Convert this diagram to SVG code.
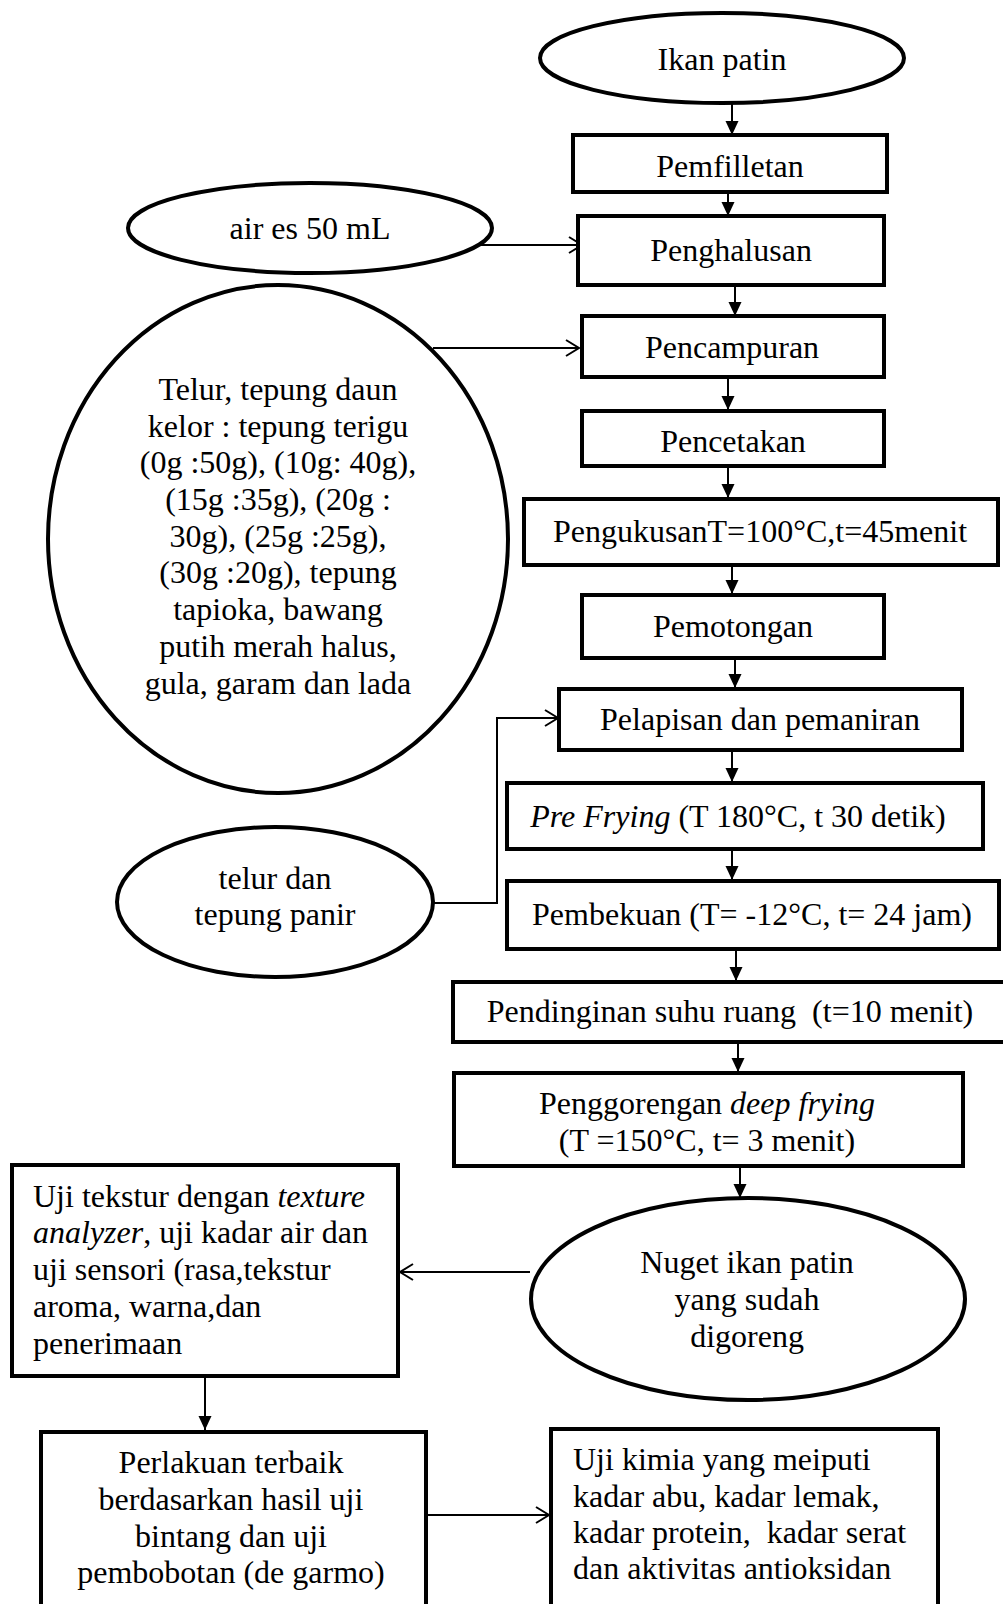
<svg xmlns="http://www.w3.org/2000/svg" width="1003" height="1604" viewBox="0 0 1003 1604">
<style>
text{font-family:"Liberation Serif","Times New Roman",serif;font-size:32px;fill:#000;white-space:pre}
.c{text-anchor:middle}
.i{font-style:italic}
.box{fill:#fff;stroke:#000;stroke-width:4}
.ell{fill:#fff;stroke:#000;stroke-width:4}
.ln{fill:none;stroke:#000;stroke-width:2}
</style>
<defs>
<marker id="tri" markerUnits="userSpaceOnUse" markerWidth="14" markerHeight="14" refX="14" refY="6.5" orient="auto">
<path d="M0,0 L14,6.5 L0,13 z" fill="#000"/>
</marker>
<marker id="open" markerUnits="userSpaceOnUse" markerWidth="16" markerHeight="20" refX="14" refY="9" orient="auto">
<path d="M1,1 L14,9 L1,17" fill="none" stroke="#000" stroke-width="2"/>
</marker>
</defs>
<rect width="1003" height="1604" fill="#fff"/>
<g id="connectors">
<line class="ln" x1="732" y1="103" x2="732" y2="135" marker-end="url(#tri)"/>
<line class="ln" x1="728" y1="192" x2="728" y2="216" marker-end="url(#tri)"/>
<line class="ln" x1="480" y1="245" x2="582" y2="245" marker-end="url(#open)"/>
<line class="ln" x1="735" y1="285" x2="735" y2="316" marker-end="url(#tri)"/>
<line class="ln" x1="433" y1="348" x2="579" y2="348" marker-end="url(#open)"/>
<line class="ln" x1="728" y1="377" x2="728" y2="410" marker-end="url(#tri)"/>
<line class="ln" x1="728" y1="466" x2="728" y2="498" marker-end="url(#tri)"/>
<line class="ln" x1="732" y1="565" x2="732" y2="594" marker-end="url(#tri)"/>
<line class="ln" x1="735" y1="658" x2="735" y2="688" marker-end="url(#tri)"/>
<polyline class="ln" points="433,903 497,903 497,718 558,718" marker-end="url(#open)"/>
<line class="ln" x1="732" y1="750" x2="732" y2="782" marker-end="url(#tri)"/>
<line class="ln" x1="732" y1="849" x2="732" y2="880" marker-end="url(#tri)"/>
<line class="ln" x1="736" y1="949" x2="736" y2="981" marker-end="url(#tri)"/>
<line class="ln" x1="738" y1="1042" x2="738" y2="1072" marker-end="url(#tri)"/>
<line class="ln" x1="740" y1="1167" x2="740" y2="1198" marker-end="url(#tri)"/>
<line class="ln" x1="530" y1="1272" x2="400" y2="1272" marker-end="url(#open)"/>
<line class="ln" x1="205" y1="1375" x2="205" y2="1430" marker-end="url(#tri)"/>
<line class="ln" x1="419" y1="1515" x2="549" y2="1515" marker-end="url(#open)"/>
</g>
<g id="ikan-patin">
<ellipse class="ell" cx="722" cy="58" rx="182" ry="45"/>
<text class="c" x="722" y="70">Ikan patin</text>
</g>
<g id="pemfilletan">
<rect class="box" x="573" y="135" width="314" height="57"/>
<text class="c" x="730" y="177">Pemfilletan</text>
</g>
<g id="air-es">
<ellipse class="ell" cx="310" cy="228" rx="182" ry="45"/>
<text class="c" x="310" y="239">air es 50 mL</text>
</g>
<g id="penghalusan">
<rect class="box" x="578" y="216" width="306" height="69"/>
<text class="c" x="731" y="261">Penghalusan</text>
</g>
<g id="bahan">
<ellipse class="ell" cx="278" cy="539" rx="230" ry="254"/>
<text class="c" x="278" y="400">Telur, tepung daun</text>
<text class="c" x="278" y="437">kelor : tepung terigu</text>
<text class="c" x="278" y="473">(0g :50g), (10g: 40g),</text>
<text class="c" x="278" y="510">(15g :35g), (20g :</text>
<text class="c" x="278" y="547">30g), (25g :25g),</text>
<text class="c" x="278" y="583">(30g :20g), tepung</text>
<text class="c" x="278" y="620">tapioka, bawang</text>
<text class="c" x="278" y="657">putih merah halus,</text>
<text class="c" x="278" y="694">gula, garam dan lada</text>
</g>
<g id="pencampuran">
<rect class="box" x="582" y="316" width="302" height="61"/>
<text class="c" x="732" y="358">Pencampuran</text>
</g>
<g id="pencetakan">
<rect class="box" x="582" y="411" width="302" height="55"/>
<text class="c" x="733" y="452">Pencetakan</text>
</g>
<g id="pengukusan">
<rect class="box" x="524" y="499" width="474" height="66"/>
<text class="c" x="760" y="542">PengukusanT=100°C,t=45menit</text>
</g>
<g id="pemotongan">
<rect class="box" x="582" y="595" width="302" height="63"/>
<text class="c" x="733" y="637">Pemotongan</text>
</g>
<g id="pelapisan">
<rect class="box" x="559" y="689" width="403" height="61"/>
<text class="c" x="760" y="730">Pelapisan dan pemaniran</text>
</g>
<g id="telur-panir">
<ellipse class="ell" cx="275" cy="902" rx="158" ry="75"/>
<text class="c" x="275" y="889">telur dan</text>
<text class="c" x="275" y="925">tepung panir</text>
</g>
<g id="pre-frying">
<rect class="box" x="507" y="783" width="476" height="66"/>
<text class="c" x="738" y="827"><tspan class="i">Pre Frying</tspan> (T 180°C, t 30 detik)</text>
</g>
<g id="pembekuan">
<rect class="box" x="507" y="881" width="492" height="68"/>
<text class="c" x="752" y="925">Pembekuan (T= -12°C, t= 24 jam)</text>
</g>
<g id="pendinginan">
<rect class="box" x="453" y="982" width="560" height="60"/>
<text class="c" x="730" y="1022">Pendinginan suhu ruang  (t=10 menit)</text>
</g>
<g id="penggorengan">
<rect class="box" x="454" y="1073" width="509" height="93"/>
<text class="c" x="707" y="1114">Penggorengan <tspan class="i">deep frying</tspan></text>
<text class="c" x="707" y="1151">(T =150°C, t= 3 menit)</text>
</g>
<g id="nuget">
<ellipse class="ell" cx="748" cy="1299" rx="217" ry="101"/>
<text class="c" x="747" y="1273">Nuget ikan patin</text>
<text class="c" x="747" y="1310">yang sudah</text>
<text class="c" x="747" y="1347">digoreng</text>
</g>
<g id="uji-tekstur">
<rect class="box" x="12" y="1165" width="386" height="211"/>
<text x="33" y="1207">Uji tekstur dengan <tspan class="i">texture</tspan></text>
<text x="33" y="1243"><tspan class="i">analyzer</tspan>, uji kadar air dan</text>
<text x="33" y="1280">uji sensori (rasa,tekstur</text>
<text x="33" y="1317">aroma, warna,dan</text>
<text x="33" y="1354">penerimaan</text>
</g>
<g id="perlakuan">
<rect class="box" x="41" y="1432" width="385" height="200"/>
<text class="c" x="231" y="1473">Perlakuan terbaik</text>
<text class="c" x="231" y="1510">berdasarkan hasil uji</text>
<text class="c" x="231" y="1547">bintang dan uji</text>
<text class="c" x="231" y="1583">pembobotan (de garmo)</text>
</g>
<g id="uji-kimia">
<rect class="box" x="551" y="1429" width="387" height="200"/>
<text x="573" y="1470">Uji kimia yang meiputi</text>
<text x="573" y="1507">kadar abu, kadar lemak,</text>
<text x="573" y="1543">kadar protein,  kadar serat</text>
<text x="573" y="1579">dan aktivitas antioksidan</text>
</g>
</svg>
